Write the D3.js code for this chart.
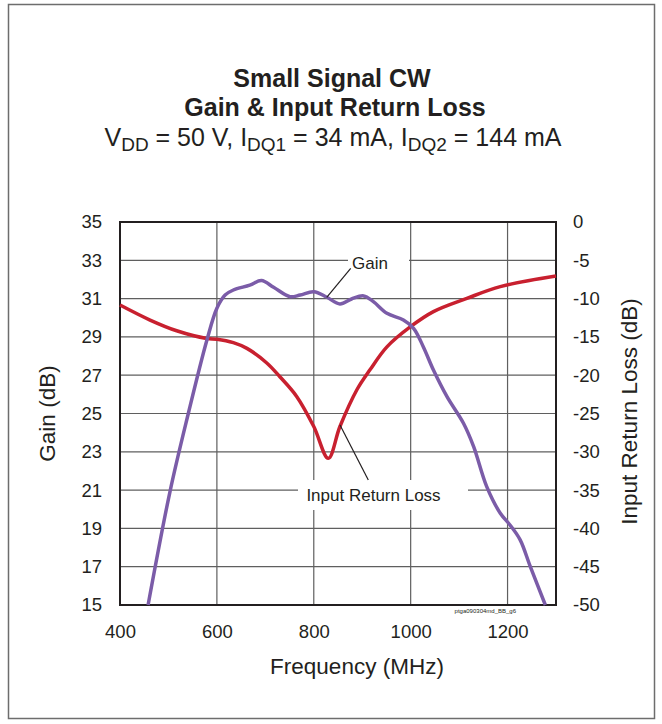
<!DOCTYPE html>
<html><head><meta charset="utf-8">
<script src="https://cdn.jsdelivr.net/npm/d3@7"></script>
<style>body{margin:0;background:#fff}svg{display:block}text{font-family:"Liberation Sans",Arial,sans-serif;fill:#231f20}</style>
</head><body><svg id="c" width="662" height="724"></svg>
<script>
// ---- data ----
const freqTicks = [400, 600, 800, 1000, 1200];
const gainTicks = [15, 17, 19, 21, 23, 25, 27, 29, 31, 33, 35];
const irlTicks = [-50, -45, -40, -35, -30, -25, -20, -15, -10, -5, 0];

const gainFreq = [458, 503, 541, 579, 600, 617, 634, 668, 692, 717, 751, 772, 800, 827, 854, 878, 903, 923, 951, 985, 1006, 1026, 1047, 1075, 1109, 1130, 1157, 1185, 1205, 1226, 1247, 1278];
const gainVal  = [15.0, 20.9, 25.0, 28.8, 30.5, 31.19, 31.45, 31.7, 31.94, 31.59, 31.1, 31.19, 31.36, 31.07, 30.72, 30.98, 31.14, 30.84, 30.23, 29.88, 29.45, 28.49, 27.27, 25.88, 24.49, 23.27, 21.18, 19.79, 19.18, 18.4, 17.0, 15.0];

const irlFreq = [400, 462, 517, 579, 600, 634, 662, 703, 730, 765, 800, 830, 854, 889, 916, 951, 999, 1047, 1116, 1185, 1300];
const irlVal  = [-10.84, -12.8, -14.2, -15.2, -15.3, -15.75, -16.5, -18.4, -20.2, -22.8, -26.7, -30.85, -26.7, -21.9, -19.3, -16.3, -13.7, -11.7, -9.97, -8.44, -7.05];

// ---- layout ----
const svg = d3.select("#c");
const L = 120, T = 222, R = 556, B = 605;
const x = d3.scaleLinear().domain([400, 1300]).range([L, R]);
const yG = d3.scaleLinear().domain([15, 35]).range([B, T]);
const yR = d3.scaleLinear().domain([-50, 0]).range([B, T]);

// frame
svg.append("rect").attr("x", 8.5).attr("y", 4.5).attr("width", 646).attr("height", 714)
  .attr("fill", "none").attr("stroke", "#6d6d6d").attr("stroke-width", 1.5);

// title
const tt = svg.append("g").attr("text-anchor", "middle");
tt.append("text").attr("x", 332).attr("y", 87).attr("font-size", 25).attr("font-weight", "bold").text("Small Signal CW");
tt.append("text").attr("x", 335).attr("y", 116).attr("font-size", 25).attr("font-weight", "bold").text("Gain & Input Return Loss");
const st = tt.append("text").attr("x", 333).attr("y", 146).attr("font-size", 25);
const parts = [["V", 0], ["DD", 1], [" = 50 V, I", 0], ["DQ1", 1], [" = 34 mA, I", 0], ["DQ2", 1], [" = 144 mA", 0]];
let prevSub = 0;
parts.forEach(([s, sub]) => {
  const dy = sub && !prevSub ? 5 : (!sub && prevSub ? -5 : 0);
  st.append("tspan").attr("dy", dy).attr("font-size", sub ? 19 : 25).text(s);
  prevSub = sub;
});

// grid
const grid = svg.append("g").attr("stroke", "#5f5f5f").attr("stroke-width", 1.2);
grid.selectAll("line.v").data(freqTicks.slice(1)).join("line")
  .attr("x1", d => x(d)).attr("x2", d => x(d)).attr("y1", T).attr("y2", B);
grid.selectAll("line.h").data(gainTicks.slice(1, -1)).join("line").attr("class", "h")
  .attr("x1", L).attr("x2", R).attr("y1", d => yG(d)).attr("y2", d => yG(d));

// label background boxes
svg.append("rect").attr("x", 348).attr("y", 252).attr("width", 61).attr("height", 20).attr("fill", "#fff");
svg.append("rect").attr("x", 298).attr("y", 480).attr("width", 170).attr("height", 30).attr("fill", "#fff");

// border
svg.append("rect").attr("x", L).attr("y", T).attr("width", R - L).attr("height", B - T)
  .attr("fill", "none").attr("stroke", "#231f20").attr("stroke-width", 2);

// axes tick labels
const fmt = d => String(d);
const leftAx = d3.axisLeft(yG).tickValues(gainTicks).tickSize(0).tickPadding(18).tickFormat(fmt);
const gl = svg.append("g").attr("transform", `translate(${L},0)`).call(leftAx);
const rightAx = d3.axisRight(yR).tickValues(irlTicks).tickSize(0).tickPadding(17).tickFormat(fmt);
const gr = svg.append("g").attr("transform", `translate(${R},0)`).call(rightAx);
const botAx = d3.axisBottom(x).tickValues(freqTicks).tickSize(0).tickPadding(20).tickFormat(fmt);
const gb = svg.append("g").attr("transform", `translate(0,${B})`).call(botAx);
[gl, gr, gb].forEach(g => {
  g.select(".domain").remove();
  g.selectAll("text").attr("font-size", 18.5).attr("font-family", '"Liberation Sans",Arial,sans-serif').attr("fill", "#231f20");
});

// axis titles
svg.append("text").attr("x", 357).attr("y", 674).attr("text-anchor", "middle").attr("font-size", 22.5).text("Frequency (MHz)");
svg.append("text").attr("transform", `translate(55,${(T + B) / 2}) rotate(-90)`).attr("text-anchor", "middle").attr("font-size", 22.5).text("Gain (dB)");
svg.append("text").attr("transform", `translate(637,${(T + B) / 2 - 2}) rotate(-90)`).attr("text-anchor", "middle").attr("font-size", 22.5).text("Input Return Loss (dB)");

// curves
const lineG = d3.line().x((d, i) => x(gainFreq[i])).y(d => yG(d)).curve(d3.curveCatmullRom.alpha(0.5));
const lineR = d3.line().x((d, i) => x(irlFreq[i])).y(d => yR(d)).curve(d3.curveCatmullRom.alpha(0.5));
svg.append("path").attr("d", lineR(irlVal)).attr("fill", "none").attr("stroke", "#c8202f").attr("stroke-width", 3.5);
svg.append("path").attr("d", lineG(gainVal)).attr("fill", "none").attr("stroke", "#7b5ca8").attr("stroke-width", 3.5);

// annotations
svg.append("line").attr("x1", 350.7).attr("y1", 268.3).attr("x2", 326.7).attr("y2", 297.3).attr("stroke", "#231f20").attr("stroke-width", 1.2);
svg.append("text").attr("x", 352).attr("y", 269).attr("font-size", 17).text("Gain");
svg.append("line").attr("x1", 368.3).attr("y1", 480).attr("x2", 340).attr("y2", 425).attr("stroke", "#231f20").attr("stroke-width", 1.2);
svg.append("text").attr("x", 373.5).attr("y", 501).attr("text-anchor", "middle").attr("font-size", 17).text("Input Return Loss");
svg.append("text").attr("x", 516).attr("y", 613).attr("text-anchor", "end").attr("font-size", 6).attr("fill", "#444").text("ptga090304md_BB_g6");
</script></body></html>
